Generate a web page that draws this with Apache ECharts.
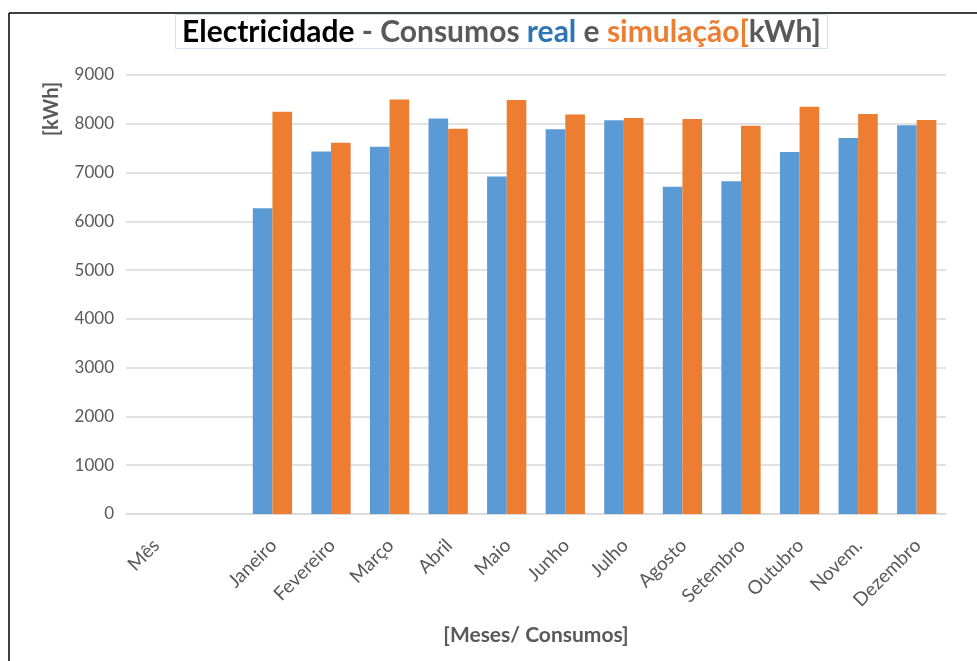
<!DOCTYPE html>
<html>
<head>
<meta charset="utf-8">
<script src="https://cdn.jsdelivr.net/npm/echarts@6/dist/echarts.min.js"></script>
<style>
  html, body { margin: 0; padding: 0; background: #fff; }
  #chart { width: 977px; height: 661px; }
</style>
</head>
<body>
<div id="chart"></div>
<script>
// Monthly electricity consumption: measured vs simulated (kWh)
const months = ['Mês', '', 'Janeiro', 'Fevereiro', 'Março', 'Abril', 'Maio', 'Junho',
  'Julho', 'Agosto', 'Setembro', 'Outubro', 'Novem.', 'Dezembro'];
const consumoReal = [null, null, 6270, 7430, 7530, 8110, 6920, 7890, 8070, 6710, 6820, 7420, 7710, 7970];
const consumoSimulacao = [null, null, 8245, 7610, 8500, 7900, 8490, 8190, 8120, 8100, 7960, 8350, 8200, 8080];
const yTicks = [0, 1000, 2000, 3000, 4000, 5000, 6000, 7000, 8000, 9000];

const FONT = 'Lato, "Open Sans", sans-serif';
const GREY = '#595959';
const TITLE_SIZE = 30;

const chart = echarts.init(document.getElementById('chart'), null, { renderer: 'canvas' });

chart.setOption({
  animation: false,
  backgroundColor: '#ffffff',
  title: {
    left: 175,
    top: 14,
    padding: [3, 7, 2, 7],
    borderColor: '#d5e0f1',
    borderWidth: 1,
    text: '{a|Electricidade}{b| - Consumos }{c|real}{b| e }{d|simulação[}{b|kWh]}',
    textStyle: {
      rich: {
        a: { fontFamily: FONT, fontWeight: 'bold', fontSize: TITLE_SIZE, color: '#000000' },
        b: { fontFamily: FONT, fontWeight: 'bold', fontSize: TITLE_SIZE, color: GREY },
        c: { fontFamily: FONT, fontWeight: 'bold', fontSize: TITLE_SIZE, color: '#2e75b6' },
        d: { fontFamily: FONT, fontWeight: 'bold', fontSize: TITLE_SIZE, color: '#ed7d31' }
      }
    }
  },
  grid: { left: 126, right: 31, top: 75, bottom: 147, containLabel: false },
  xAxis: {
    type: 'category',
    data: months,
    name: '[Meses/ Consumos]',
    nameLocation: 'middle',
    nameGap: 111,
    nameTextStyle: { fontFamily: FONT, fontWeight: 'bold', fontSize: 21, color: GREY },
    axisLine: { show: true, lineStyle: { color: '#d9d9d9', width: 1.5 } },
    axisTick: { show: false },
    axisLabel: {
      interval: 0,
      rotate: 45,
      margin: 16,
      padding: [0, 8, 0, 0],
      verticalAlign: 'top',
      fontFamily: FONT,
      fontSize: 19,
      color: GREY
    }
  },
  yAxis: {
    type: 'value',
    min: 0,
    max: 9000,
    interval: 1000,
    axisLine: { show: false },
    axisTick: { show: false },
    axisLabel: {
      margin: 12,
      fontFamily: FONT,
      fontSize: 17,
      color: GREY,
      formatter: v => (yTicks.includes(v) ? String(v) : '')
    },
    splitLine: { lineStyle: { color: '#d9d9d9', width: 1.5 } }
  },
  series: [
    {
      name: 'real',
      type: 'bar',
      data: consumoReal,
      barGap: '0%',
      barCategoryGap: '33%',
      itemStyle: { color: '#5b9bd5' }
    },
    {
      name: 'simulação',
      type: 'bar',
      data: consumoSimulacao,
      itemStyle: { color: '#ed7d31' }
    }
  ],
  graphic: [
    // outer frame (top and left edges)
    { type: 'line', shape: { x1: 9, y1: 13, x2: 977, y2: 13 }, style: { stroke: '#000', lineWidth: 1.5 } },
    { type: 'line', shape: { x1: 9, y1: 13, x2: 9, y2: 661 }, style: { stroke: '#000', lineWidth: 1.5 } },
    // vertical axis unit label
    {
      type: 'text',
      x: 52,
      y: 109,
      rotation: Math.PI / 2,
      style: {
        text: '[kWh]',
        fontFamily: FONT,
        fontWeight: 'bold',
        fontSize: 20,
        fill: GREY,
        textAlign: 'center',
        textVerticalAlign: 'middle'
      }
    }
  ]
});
</script>
</body>
</html>
